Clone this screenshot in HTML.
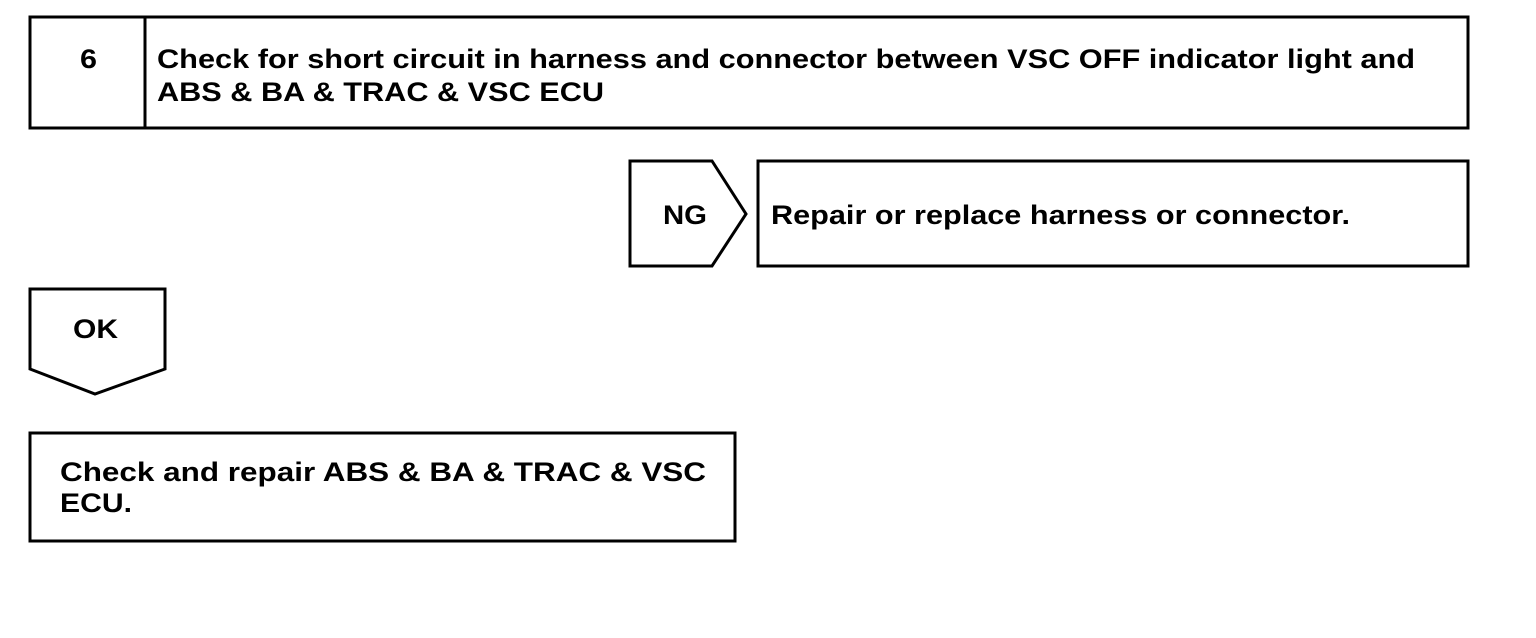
<!DOCTYPE html>
<html><head><meta charset="utf-8"><style>
html,body{margin:0;padding:0;background:#fff;width:1536px;height:638px;overflow:hidden}
svg{display:block}
text{font-family:"Liberation Sans",Arial,sans-serif;font-weight:bold;font-size:27px;fill:#000}
</style></head><body>
<svg width="1536" height="638" viewBox="0 0 1536 638" xmlns="http://www.w3.org/2000/svg">
<g fill="none" stroke="#000" stroke-width="3">
<rect x="30" y="17" width="1438" height="111"/>
<line x1="145" y1="17" x2="145" y2="128"/>
<polygon points="630,161 712,161 746,214 712,266 630,266"/>
<rect x="758" y="161" width="710" height="105"/>
<polygon points="30,289 165,289 165,369 95,394 30,369"/>
<rect x="30" y="433" width="705" height="108"/>
</g>
<text x="80" y="68" textLength="17" lengthAdjust="spacingAndGlyphs">6</text>
<text x="157" y="68" textLength="1258" lengthAdjust="spacingAndGlyphs">Check for short circuit in harness and connector between VSC OFF indicator light and</text>
<text x="157" y="101" textLength="447" lengthAdjust="spacingAndGlyphs">ABS &amp; BA &amp; TRAC &amp; VSC ECU</text>
<text x="663" y="224" textLength="44" lengthAdjust="spacingAndGlyphs">NG</text>
<text x="771" y="224" textLength="579" lengthAdjust="spacingAndGlyphs">Repair or replace harness or connector.</text>
<text x="73" y="338" textLength="45" lengthAdjust="spacingAndGlyphs">OK</text>
<text x="60" y="481" textLength="646" lengthAdjust="spacingAndGlyphs">Check and repair ABS &amp; BA &amp; TRAC &amp; VSC</text>
<text x="60" y="512" textLength="72" lengthAdjust="spacingAndGlyphs">ECU.</text>
</svg>
</body></html>
